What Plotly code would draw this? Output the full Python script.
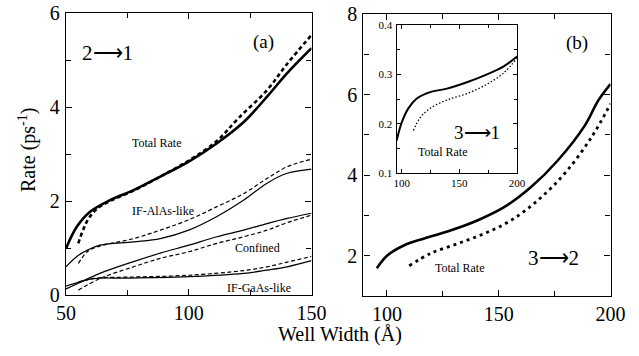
import plotly.graph_objects as go

# ---------------- Panel (a): 2 -> 1 ----------------
a_total_solid_x = [50, 54.4, 59.8, 68, 77.5, 88.4, 100, 111.5, 122.4, 131.9, 140.1, 150]
a_total_solid_y = [0.99, 1.45, 1.77, 2.02, 2.23, 2.52, 2.84, 3.23, 3.68, 4.22, 4.72, 5.25]
a_total_dash_x = [55, 58.9, 63, 68, 77.5, 88.4, 100, 111.5, 120, 131.9, 140.1, 150]
a_total_dash_y = [1.1, 1.6, 1.85, 2.0, 2.22, 2.52, 2.86, 3.28, 3.75, 4.36, 4.92, 5.53]

a_alas_solid_x = [50, 54.4, 58.9, 63.8, 77.5, 88.4, 100, 111.5, 122.4, 131.9, 140.1, 150]
a_alas_solid_y = [0.60, 0.82, 0.96, 1.06, 1.13, 1.2, 1.38, 1.67, 2.02, 2.38, 2.59, 2.68]
a_alas_dash_x = [55, 58.9, 63.8, 77.5, 88.4, 100, 111.5, 122.4, 131.9, 140.1, 150]
a_alas_dash_y = [0.67, 0.93, 1.04, 1.2, 1.38, 1.6, 1.88, 2.16, 2.48, 2.73, 2.89]

a_conf_solid_x = [50, 55, 63.8, 77.5, 88.4, 100, 111.5, 122.4, 131.9, 140.1, 150]
a_conf_solid_y = [0.13, 0.25, 0.46, 0.71, 0.89, 1.06, 1.24, 1.38, 1.52, 1.63, 1.74]
a_conf_dash_x = [55, 63.8, 77.5, 88.4, 100, 111.5, 122.4, 131.9, 140.1, 150]
a_conf_dash_y = [0.1, 0.35, 0.6, 0.78, 0.92, 1.1, 1.24, 1.38, 1.54, 1.70]

a_gaas_solid_x = [50, 55.7, 61.1, 75, 100, 122.4, 131.9, 140.1, 150]
a_gaas_solid_y = [0.19, 0.28, 0.35, 0.36, 0.39, 0.46, 0.53, 0.6, 0.73]
a_gaas_dash_x = [55, 60, 65, 75, 100, 122.4, 131.9, 140.1, 150]
a_gaas_dash_y = [0.28, 0.34, 0.37, 0.38, 0.42, 0.52, 0.6, 0.7, 0.82]

# ---------------- Panel (b): 3 -> 2 ----------------
b_solid_x = [95.5, 100.3, 107.8, 116.7, 128.7, 140.7, 152.6, 164.6, 176.5, 188.5, 194.5, 200]
b_solid_y = [1.69, 2.01, 2.26, 2.43, 2.63, 2.88, 3.21, 3.71, 4.37, 5.23, 5.85, 6.26]
b_dot_x = [110, 119.7, 131.7, 143.6, 155.6, 167.6, 179.5, 191.5, 200]
b_dot_y = [1.75, 2.06, 2.30, 2.55, 2.88, 3.38, 4.04, 4.94, 5.77]

# ---------------- Inset: 3 -> 1 ----------------
i_solid_x = [95.7, 100, 105.8, 113.1, 124.7, 139.2, 156.6, 174, 188.5, 200]
i_solid_y = [0.166, 0.202, 0.231, 0.251, 0.264, 0.271, 0.284, 0.30, 0.316, 0.336]
i_dot_x = [110.2, 116, 124.7, 139.2, 156.6, 174, 188.5, 200]
i_dot_y = [0.186, 0.212, 0.231, 0.248, 0.261, 0.28, 0.303, 0.333]

a_xticks = [50, 100, 150]
a_yticks = [0, 2, 4, 6]
b_xticks = [100, 150, 200]
b_yticks = [2, 4, 6, 8]
i_xticks = [100, 150, 200]
i_yticks = [0.1, 0.2, 0.3, 0.4]

W, H = 639, 356
FONT = "Liberation Serif"

fig = go.Figure()

def line(x, y, xa, ya, width, dash="solid"):
    fig.add_trace(go.Scatter(x=x, y=y, xaxis=xa, yaxis=ya, mode="lines",
                             line=dict(color="black", width=width, dash=dash, shape="spline", smoothing=1.0),
                             showlegend=False, hoverinfo="skip"))

# panel a
line(a_total_solid_x, a_total_solid_y, "x", "y", 2.6)
line(a_total_dash_x, a_total_dash_y, "x", "y", 2.6, "4px,3px")
line(a_alas_solid_x, a_alas_solid_y, "x", "y", 1.2)
line(a_alas_dash_x, a_alas_dash_y, "x", "y", 1.2, "4px,2.5px")
line(a_conf_solid_x, a_conf_solid_y, "x", "y", 1.2)
line(a_conf_dash_x, a_conf_dash_y, "x", "y", 1.2, "4px,2.5px")
line(a_gaas_solid_x, a_gaas_solid_y, "x", "y", 1.2)
line(a_gaas_dash_x, a_gaas_dash_y, "x", "y", 1.2, "4px,2.5px")
# panel b
line(b_solid_x, b_solid_y, "x2", "y2", 2.6)
line(b_dot_x, b_dot_y, "x2", "y2", 2.8, "3px,4px")
# inset
line(i_solid_x, i_solid_y, "x3", "y3", 2.0)
line(i_dot_x, i_dot_y, "x3", "y3", 1.3, "1.5px,2px")

def px_x(p):
    return p / W

def px_y(p):
    return 1 - p / H

def axis(domain, rng, tickvals, minor_dtick, size, ticklen=6, anchor=None, standoff=3, fmt=None):
    d = dict(domain=domain, range=rng, tickvals=tickvals, showline=True, linecolor="black",
             linewidth=1.3, mirror="ticks", ticks="inside", ticklen=ticklen, tickwidth=1,
             tickcolor="black", showgrid=False, zeroline=False, automargin=False,
             tickfont=dict(family=FONT, size=size, color="black"),
             minor=dict(dtick=minor_dtick, ticks="inside", ticklen=ticklen - 1, tickwidth=1,
                        tickcolor="black", showgrid=False),
             ticklabelstandoff=standoff)
    if anchor:
        d["anchor"] = anchor
    if fmt:
        d["tickformat"] = fmt
    return d

fig.update_layout(
    width=W, height=H, margin=dict(l=0, r=0, t=0, b=0, autoexpand=False),
    paper_bgcolor="white", plot_bgcolor="white",
    font=dict(family=FONT, color="black"),
    xaxis=axis([px_x(66), px_x(311.5)], [50, 150], a_xticks, 25, 20, anchor="y", standoff=0),
    yaxis=axis([px_y(295), px_y(13)], [0, 6], a_yticks, 1, 20, anchor="x", standoff=1),
    xaxis2=axis([px_x(363.4), px_x(610.5)], [89.5, 200], b_xticks, 25, 20, anchor="y2", standoff=0),
    yaxis2=axis([px_y(296), px_y(14)], [1, 8], b_yticks, 1, 20, anchor="x2", standoff=1),
    xaxis3=axis([px_x(396.7), px_x(517)], [95.7, 200], i_xticks, 25, 11, ticklen=4, anchor="y3", standoff=0),
    yaxis3=axis([px_y(173), px_y(25)], [0.1, 0.4], i_yticks, 0.05, 11, ticklen=4, anchor="x3", standoff=1, fmt=".1f"),
)

def note(text, x, y, size, **kw):
    fig.add_annotation(text=text, x=px_x(x), y=px_y(y), xref="paper", yref="paper",
                       showarrow=False, xanchor="center", yanchor="middle",
                       font=dict(family=FONT, size=size, color="black"), **kw)

note("Total Rate", 156, 143, 12)
note("IF-AlAs-like", 163, 211, 12)
note("Confined", 257, 248, 12)
note("IF-GaAs-like", 259, 288, 12)
note("(a)", 263, 42, 19)
note("2\u27f61", 107, 53, 21)
note("(b)", 577, 43, 19)
note("3\u27f62", 553, 258, 21)
note("Total Rate", 460, 268, 12)
note("3\u27f61", 477, 132, 19)
note("Total Rate", 442, 152, 12)
note("Well Width (Å)", 340, 334, 20)
note("Rate (ps<sup>-1</sup>)", 27, 150, 20, textangle=-90)

fig.write_html("out.html", config={"displayModeBar": False},
               post_script="document.body.style.margin='0px';document.body.style.overflow='hidden';")
